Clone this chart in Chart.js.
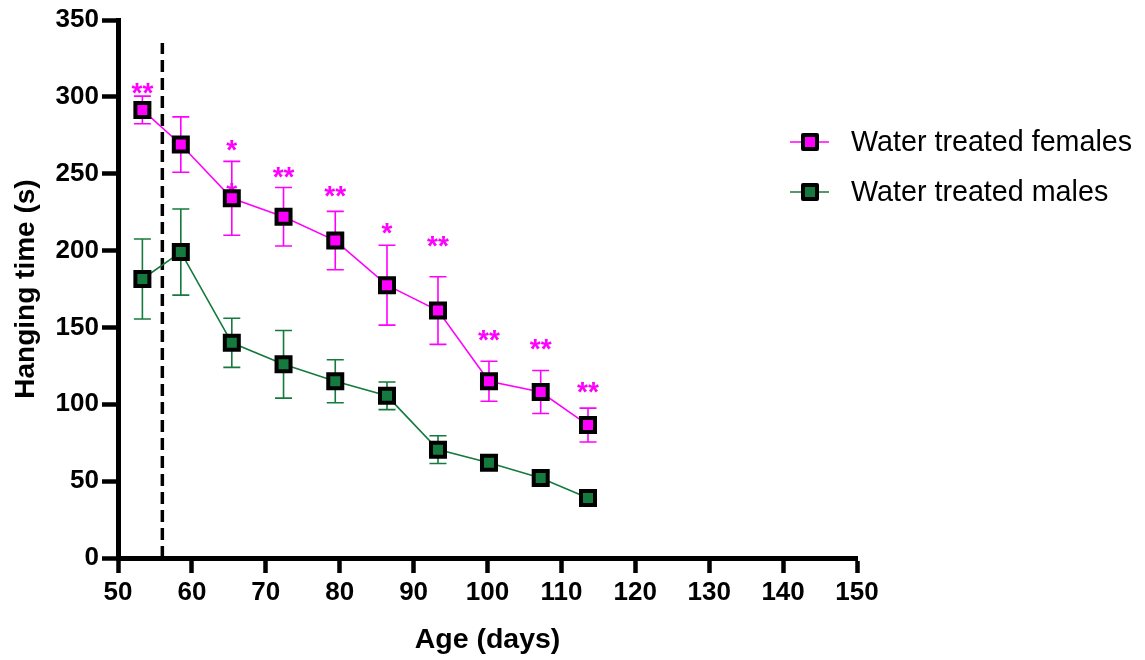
<!DOCTYPE html>
<html>
<head>
<meta charset="utf-8">
<script src="https://cdn.jsdelivr.net/npm/chart.js@4"></script>
<style>
  body { margin: 0; background: #fff; }
  #wrap { width: 1145px; height: 660px; }
</style>
</head>
<body>
<div id="wrap"><canvas id="hangChart" width="1145" height="660"></canvas></div>
<script>
// age at each test (days)
const ages = [53.3, 58.5, 65.4, 72.4, 79.4, 86.4, 93.3, 100.2, 107.2, 113.6];

// hanging time mean and SEM (s)
const femaleMean = [291.5, 269, 234, 222, 206.5, 177.5, 161, 115, 108, 86.5];
const femaleSem = [9, 18, 24, 19, 19, 26, 22, 13, 14, 11];
const maleMean = [181.5, 199, 140, 126, 115, 105.5, 70.5, 62, 52, 39];
const maleSem = [26, 28, 16, 22, 14, 9, 9, 3.5, 4, 1];

// significance marks above the female points
const starAges = [53.3, 65.4, 65.4, 72.4, 79.4, 86.4, 93.3, 100.2, 107.2, 113.6];
const starY = [306, 269, 241, 251, 239, 215, 206, 145, 139, 111];
const starText = ['**', '*', '*', '**', '**', '*', '**', '**', '**', '**'];

const xTicks = [50, 60, 70, 80, 90, 100, 110, 120, 130, 140, 150];
const yTicks = [0, 50, 100, 150, 200, 250, 300, 350];
const treatmentStart = 56;

const seriesNames = ['Water treated females', 'Water treated males'];
const yTitle = 'Hanging time (s)';
const magenta = '#ff00ff';
const green = '#157a3d';
const fontFamily = 'Arial, "Liberation Sans"';

function toPoints(xs, ys) {
    return xs.map(function (x, i) { return { x: x, y: ys[i] }; });
}

// error bars, asterisks and the dashed line, all under the markers
const errorBars = {
    id: 'errorBars',
    beforeDatasetsDraw: function (chart) {
        const ctx = chart.ctx;
        const xs = chart.scales.x, ys = chart.scales.y;
        const sets = [[femaleMean, femaleSem, magenta], [maleMean, maleSem, green]];
        ctx.save();
        ctx.lineWidth = 1.6;
        sets.forEach(function (s) {
            ctx.strokeStyle = s[2];
            ages.forEach(function (a, i) {
                const px = xs.getPixelForValue(a);
                const top = ys.getPixelForValue(s[0][i] + s[1][i]);
                const bot = ys.getPixelForValue(s[0][i] - s[1][i]);
                ctx.beginPath();
                ctx.moveTo(px, top); ctx.lineTo(px, bot);
                ctx.moveTo(px - 8.5, top); ctx.lineTo(px + 8.5, top);
                ctx.moveTo(px - 8.5, bot); ctx.lineTo(px + 8.5, bot);
                ctx.stroke();
            });
        });

        ctx.fillStyle = magenta;
        ctx.font = 'bold 28px ' + fontFamily;
        ctx.textAlign = 'center';
        ctx.textBaseline = 'alphabetic';
        starAges.forEach(function (a, i) {
            ctx.fillText(starText[i], xs.getPixelForValue(a), ys.getPixelForValue(starY[i]) + 14);
        });

        ctx.strokeStyle = '#000';
        ctx.lineWidth = 3.5;
        ctx.setLineDash([12, 6]);
        ctx.beginPath();
        ctx.moveTo(xs.getPixelForValue(treatmentStart), ys.getPixelForValue(0));
        ctx.lineTo(xs.getPixelForValue(treatmentStart), ys.getPixelForValue(335));
        ctx.stroke();
        ctx.restore();
    }
};

// legend on the right and the rotated y title
const sideLegend = {
    id: 'sideLegend',
    afterDraw: function (chart) {
        const ctx = chart.ctx;
        const area = chart.chartArea;
        ctx.save();
        chart.data.datasets.forEach(function (ds, i) {
            const y = 142 + i * 50;
            ctx.strokeStyle = ds.borderColor;
            ctx.lineWidth = 1.6;
            ctx.beginPath();
            ctx.moveTo(790, y); ctx.lineTo(829, y);
            ctx.stroke();
            ctx.fillStyle = ds.pointBackgroundColor;
            ctx.strokeStyle = '#000';
            ctx.lineWidth = 4;
            ctx.lineJoin = 'round';
            ctx.beginPath();
            ctx.rect(810 - 7, y - 7, 14, 14);
            ctx.fill();
            ctx.stroke();
            ctx.fillStyle = '#000';
            ctx.font = '28.7px ' + fontFamily;
            ctx.textBaseline = 'middle';
            ctx.textAlign = 'left';
            ctx.fillText(ds.label, 851, y + 1);
        });

        ctx.translate(34, (area.top + area.bottom) / 2);
        ctx.rotate(-Math.PI / 2);
        ctx.fillStyle = '#000';
        ctx.font = 'bold 28px ' + fontFamily;
        ctx.textAlign = 'center';
        ctx.textBaseline = 'alphabetic';
        ctx.fillText(yTitle, 0, 0);
        ctx.restore();
    }
};

const tickFont = { family: fontFamily, size: 26, weight: 'bold' };

function seriesStyle(color) {
    return {
        borderColor: color,
        borderWidth: 1.6,
        pointStyle: 'rect',
        pointRadius: 9.9,
        pointBackgroundColor: color,
        pointBorderColor: '#000',
        pointBorderWidth: 4
    };
}

new Chart(document.getElementById('hangChart'), {
    type: 'line',
    data: {
        datasets: [
            Object.assign({ label: seriesNames[0], data: toPoints(ages, femaleMean) }, seriesStyle(magenta)),
            Object.assign({ label: seriesNames[1], data: toPoints(ages, maleMean) }, seriesStyle(green))
        ]
    },
    options: {
        responsive: false,
        animation: false,
        devicePixelRatio: 1,
        layout: { padding: { top: 20, right: 288, left: 0, bottom: 0 } },
        plugins: { legend: { display: false }, tooltip: { enabled: false } },
        scales: {
            x: {
                type: 'linear',
                min: 50, max: 150,
                afterBuildTicks: function (s) { s.ticks = xTicks.map(function (v) { return { value: v }; }); },
                afterFit: function (s) { s.height = 102; },
                grid: { drawOnChartArea: false, drawTicks: true, tickLength: 15, tickWidth: 4.5, tickColor: '#000' },
                border: { width: 5, color: '#000' },
                ticks: { color: '#000', font: tickFont, padding: 4, maxRotation: 0 },
                title: { display: true, text: 'Age (days)', color: '#000', font: { family: fontFamily, size: 28.5, weight: 'bold' }, padding: { top: 0, bottom: 3 } }
            },
            y: {
                min: 0, max: 350,
                afterBuildTicks: function (s) { s.ticks = yTicks.map(function (v) { return { value: v }; }); },
                afterFit: function (s) { s.width = 118; },
                grid: { drawOnChartArea: false, drawTicks: true, tickLength: 16, tickWidth: 4.5, tickColor: '#000' },
                border: { width: 5, color: '#000' },
                ticks: { color: '#000', font: tickFont, padding: 3 }
            }
        }
    },
    plugins: [errorBars, sideLegend]
});
</script>
</body>
</html>
